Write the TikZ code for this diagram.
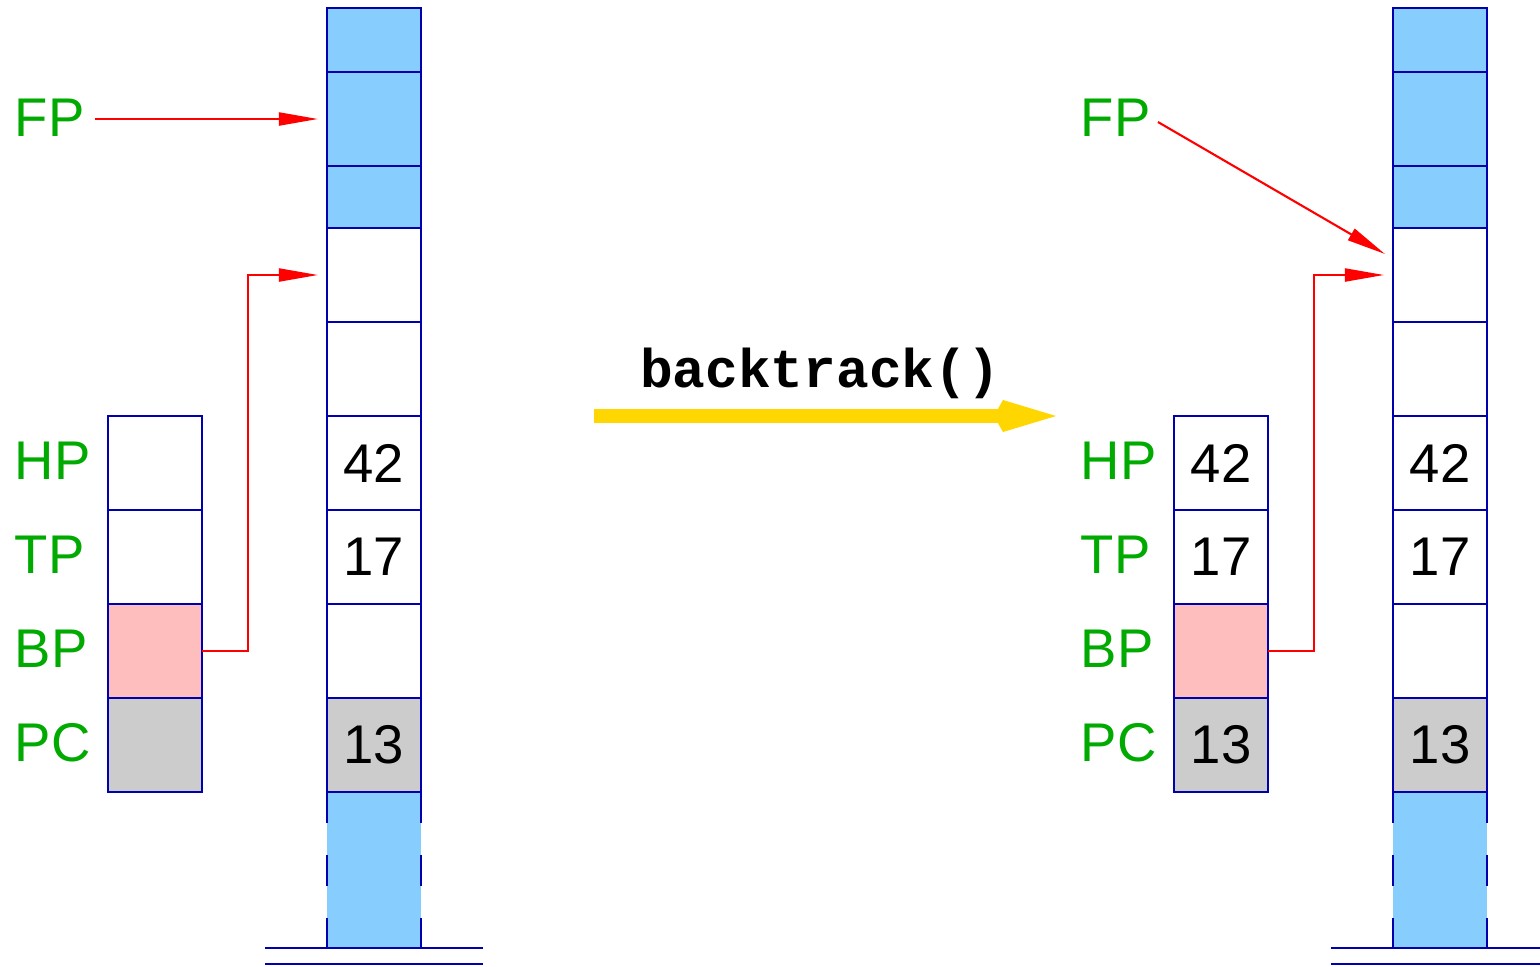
\documentclass[tikz,border=0pt]{standalone}
\usepackage{fontspec}
\setmainfont{Liberation Sans}
\newfontfamily\codefont{Liberation Mono}
\usetikzlibrary{arrows.meta,positioning,calc}
\definecolor{lineBlue}{RGB}{0,0,175}
\definecolor{cellBlue}{RGB}{135,206,255}
\definecolor{cellPink}{RGB}{255,190,190}
\definecolor{cellGray}{RGB}{204,204,204}
\definecolor{labelGreen}{RGB}{0,170,0}
\definecolor{ptrRed}{RGB}{255,0,0}
\definecolor{goldArrow}{RGB}{255,214,0}

\begin{document}
\begin{tikzpicture}[
  x=0.01cm, y=-0.01cm,
  font=\fontsize{15.5}{18}\selectfont,
  cell/.style={draw=lineBlue, line width=0.8pt, minimum width=0.94cm, inner sep=0pt, outer sep=0pt, anchor=north},
  reg/.style={draw=lineBlue, line width=0.5pt, minimum width=0.94cm, minimum height=0.94cm, inner sep=0pt, outer sep=0pt, anchor=north},
  stackside/.style={draw=lineBlue, line width=0.8pt, dash pattern=on 0.31cm off 0.32cm},
  floorline/.style={draw=lineBlue, line width=0.65pt},
  reglabel/.style={text=labelGreen, anchor=west, inner sep=0pt},
  codelabel/.style={font=\codefont\bfseries\fontsize{15.5}{18}\selectfont, anchor=base},
  pointer/.style={-{Triangle[length=0.39cm, width=0.13cm]}, draw=ptrRed, line width=0.6pt},
  bigarrow/.style={-{Kite[length=0.62cm, width=0.32cm, inset=0.09cm]}, draw=goldArrow, line width=4.2pt}
]
\useasboundingbox (0,0) rectangle (1540,966);

% ------------------------------------------------------------------
% Stacks, labels and pointers (left: before, right: after)
% ------------------------------------------------------------------
\foreach \s/\dx in {l/0, r/1066} {
  % open bottom part of the stack
  \node[cell, draw=none, fill=cellBlue, minimum height=1.56cm] (\s-bot) at (374+\dx,792) {};
  \draw[stackside] (\s-bot.north west) -- (\s-bot.south west);
  \draw[stackside] (\s-bot.north east) -- (\s-bot.south east);
  \draw[floorline] ($(\s-bot.south)+(-109,0)$) -- ++(218,0);
  \draw[floorline] ($(\s-bot.south)+(-109,16)$) -- ++(218,0);
  % stack cells
  \foreach \n/\top/\h/\col/\txt in {1/8/64/cellBlue/{}, 2/72/94/cellBlue/{}, 3/166/62/cellBlue/{},
      4/228/94/white/{}, 5/322/94/white/{}, 6/416/94/white/42, 7/510/94/white/17,
      8/604/94/white/{}, 9/698/94/cellGray/13} {
    \node[cell, fill=\col, minimum height={\h*0.01cm}] (\s-cell\n) at (374+\dx,\top) {\txt};
  }
  % register names
  \node[reglabel] (\s-fp) at (14+\dx,118) {FP};
  \foreach \lab/\y in {HP/461, TP/555, BP/649, PC/743} {
    \node[reglabel] (\s-lab\lab) at (14+\dx,\y) {\lab};
  }
}

% registers before the call
\foreach \n/\top/\col in {hp/416/white, tp/510/white, bp/604/cellPink, pc/698/cellGray} {
  \node[reg, fill=\col] (l-\n) at (155,\top) {};
}
% registers after the call
\foreach \n/\top/\col/\txt in {hp/416/white/42, tp/510/white/17, bp/604/cellPink/{}, pc/698/cellGray/13} {
  \node[reg, fill=\col] (r-\n) at (1221,\top) {\txt};
}

% pointers
\draw[pointer, shorten <=0.1cm, shorten >=0.09cm] (l-fp.east |- l-cell2.west) -- (l-cell2.west);
\coordinate (r-fptarget) at ($(r-cell4.north west)+(-8,26)$);
\draw[pointer, shorten <=0.08cm] (r-fp.east) -- (r-fptarget);
\foreach \s in {l, r} {
  \draw[pointer, shorten >=0.09cm] (\s-bp.east) -- ++(46,0) |- (\s-cell4.west);
}

% ------------------------------------------------------------------
% Transition
% ------------------------------------------------------------------
\coordinate (btStart) at (594,416);
\coordinate (btEnd) at (1056,416);
\draw[bigarrow] (btStart) -- (btEnd);
\node[codelabel] (btLabel) at (820,387) {backtrack()};

\end{tikzpicture}
\end{document}
